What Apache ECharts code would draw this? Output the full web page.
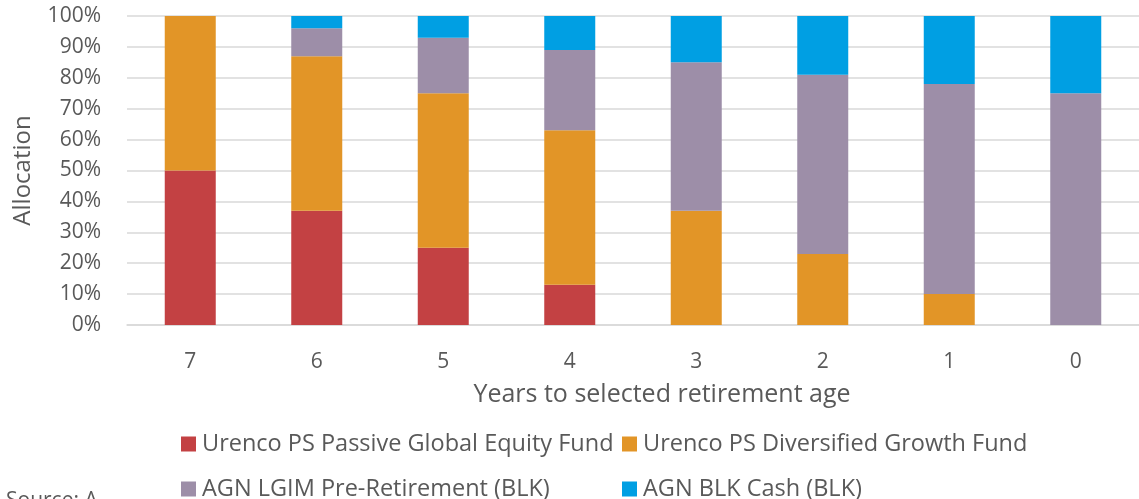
<!DOCTYPE html>
<html>
<head>
<meta charset="utf-8">
<script src="https://cdn.jsdelivr.net/npm/echarts@6/dist/echarts.min.js"></script>
<style>
  html, body { margin: 0; padding: 0; background: #fff; }
  #chart { width: 1139px; height: 499px; }
</style>
</head>
<body>
<div id="chart"></div>
<script>
const years = ['7', '6', '5', '4', '3', '2', '1', '0']
const seriesNames = [
  'Urenco PS Passive Global Equity Fund',
  'Urenco PS Diversified Growth Fund',
  'AGN LGIM Pre-Retirement (BLK)',
  'AGN BLK Cash (BLK)'
]
const equity = [50, 37, 25, 13, 0, 0, 0, 0]
const growth = [50, 50, 50, 50, 37, 23, 10, 0]
const preRetirement = [0, 9, 18, 26, 48, 58, 68, 75]
const cash = [0, 4, 7, 11, 15, 19, 22, 25]
const colors = ['#c34143', '#e29527', '#9d8ea8', '#009fe3']

const fontFamily = '"Open Sans", "Noto Sans", sans-serif'
const textColor = '#595959'

const chart = echarts.init(document.getElementById('chart'))

const dataList = [equity, growth, preRetirement, cash]
const series = seriesNames.map((name, i) => ({
  name: name,
  type: 'bar',
  stack: 'total',
  data: dataList[i],
  barWidth: 51,
  itemStyle: { color: colors[i] },
  emphasis: { disabled: true }
}))

// one legend per item so each sits at its own spot
const legendPos = [
  { left: 181, top: 432 },
  { left: 622, top: 432 },
  { left: 181, top: 477 },
  { left: 622, top: 477 }
]
const legends = seriesNames.map((name, i) => ({
  data: [name],
  left: legendPos[i].left,
  top: legendPos[i].top,
  padding: 0,
  icon: 'rect',
  itemWidth: 15,
  itemHeight: 15,
  itemGap: 0,
  textStyle: { fontSize: 23.5, color: textColor, fontFamily: fontFamily, padding: [0, 0, 0, 1] }
}))

chart.setOption({
  animation: false,
  textStyle: { fontFamily: fontFamily },
  grid: { left: 127, right: -4, top: 16, bottom: 174 },
  legend: legends,
  title: {
    text: 'Source: A',
    left: 6,
    top: 491,
    padding: 0,
    textStyle: { fontSize: 21, fontWeight: 'normal', color: textColor, fontFamily: fontFamily }
  },
  xAxis: {
    type: 'category',
    data: years,
    name: 'Years to selected retirement age',
    nameLocation: 'middle',
    nameGap: 57,
    nameTextStyle: { fontSize: 25, color: textColor, fontFamily: fontFamily, padding: [0, 0, 0, 58] },
    axisLine: { show: true, lineStyle: { color: '#d9d9d9', width: 1.5 } },
    axisTick: { show: false },
    axisLabel: { fontSize: 21, color: textColor, margin: 27 }
  },
  yAxis: {
    type: 'value',
    min: 0,
    max: 100,
    interval: 10,
    name: 'Allocation',
    nameLocation: 'middle',
    nameGap: 92,
    nameTextStyle: { fontSize: 24, color: textColor, fontFamily: fontFamily },
    axisLabel: { fontSize: 21, color: textColor, margin: 26, formatter: '{value}%' },
    splitLine: { lineStyle: { color: '#d9d9d9', width: 1.5 } },
    axisLine: { show: false },
    axisTick: { show: false }
  },
  series: series
})
</script>
</body>
</html>
